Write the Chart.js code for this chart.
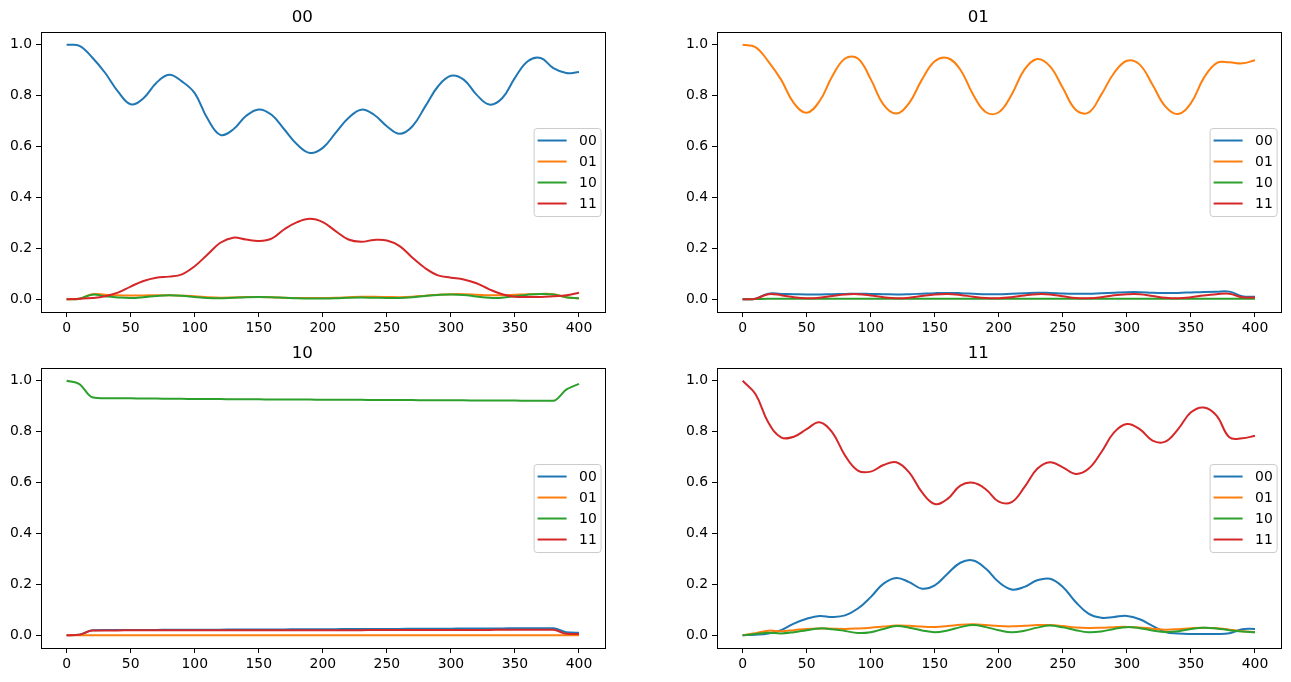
<!DOCTYPE html>
<html>
<head>
<meta charset="utf-8">
<script src="https://cdn.jsdelivr.net/npm/chart.js@4.4.1/dist/chart.umd.min.js"></script>
<style>
  body { margin: 0; background: #fff; }
  #fig { position: relative; width: 1291px; height: 682px; overflow: hidden; }
  .panel { position: absolute; width: 616px; height: 342px; }
</style>
</head>
<body>
<div id="fig">
  <div class="panel" style="left:0px;top:0px"><canvas id="c00"></canvas></div>
  <div class="panel" style="left:676px;top:0px"><canvas id="c01"></canvas></div>
  <div class="panel" style="left:0px;top:336px"><canvas id="c10"></canvas></div>
  <div class="panel" style="left:676px;top:336px"><canvas id="c11"></canvas></div>
</div>
<script>
// time steps shared by every panel
const steps = [0,10,20,30,40,50,60,70,80,90,100,110,120,130,140,150,160,170,180,190,200,
               210,220,230,240,250,260,270,280,290,300,310,320,330,340,350,360,370,380,390,400];
const xTicks = [0,50,100,150,200,250,300,350,400];
const yTicks = [0,0.2,0.4,0.6,0.8,1.0];
const stateLabels = ['00','01','10','11'];
const colors = ['#1f77b4','#ff7f0e','#2ca02c','#d62728'];

// panel "00"
const p00_00 = [1.0,0.996,0.95,0.89,0.817,0.766,0.79,0.85,0.882,0.856,0.81,0.71,0.646,0.667,0.72,0.746,0.725,0.667,0.608,0.575,0.595,0.654,0.712,0.745,0.725,0.68,0.65,0.68,0.758,0.837,0.878,0.863,0.804,0.765,0.79,0.87,0.935,0.948,0.908,0.889,0.893];
const p00_01 = [0,0.002,0.02,0.018,0.016,0.015,0.015,0.016,0.016,0.014,0.012,0.008,0.006,0.007,0.009,0.009,0.008,0.006,0.005,0.005,0.005,0.006,0.008,0.01,0.01,0.009,0.008,0.01,0.014,0.018,0.02,0.02,0.018,0.016,0.016,0.018,0.02,0.021,0.02,0.008,0.004];
const p00_10 = [0,0.002,0.018,0.012,0.007,0.005,0.008,0.013,0.016,0.014,0.009,0.005,0.004,0.006,0.008,0.009,0.008,0.006,0.004,0.003,0.003,0.004,0.006,0.007,0.006,0.005,0.005,0.008,0.013,0.017,0.019,0.017,0.011,0.006,0.006,0.012,0.018,0.021,0.019,0.008,0.004];
const p00_11 = [0,0.002,0.005,0.012,0.026,0.05,0.072,0.085,0.089,0.098,0.13,0.176,0.222,0.242,0.235,0.229,0.238,0.275,0.303,0.316,0.303,0.268,0.235,0.226,0.233,0.231,0.209,0.163,0.122,0.094,0.085,0.078,0.063,0.039,0.02,0.01,0.009,0.009,0.012,0.016,0.026];

// panel "01"
const p01_00 = [0,0.002,0.022,0.021,0.02,0.019,0.019,0.02,0.021,0.022,0.021,0.02,0.019,0.02,0.022,0.024,0.025,0.024,0.022,0.02,0.02,0.022,0.024,0.026,0.025,0.023,0.022,0.022,0.024,0.026,0.028,0.028,0.026,0.025,0.025,0.027,0.029,0.03,0.03,0.012,0.01];
const p01_01 = [1.0,0.991,0.935,0.863,0.771,0.733,0.778,0.876,0.946,0.946,0.865,0.765,0.73,0.771,0.863,0.935,0.948,0.902,0.804,0.735,0.735,0.804,0.902,0.944,0.915,0.83,0.745,0.733,0.804,0.889,0.937,0.922,0.843,0.758,0.728,0.771,0.869,0.928,0.931,0.927,0.939];
const p01_10 = [0,0.001,0.002,0.002,0.002,0.002,0.002,0.002,0.002,0.002,0.002,0.002,0.002,0.002,0.002,0.002,0.002,0.002,0.002,0.002,0.002,0.002,0.002,0.002,0.002,0.002,0.002,0.002,0.002,0.002,0.002,0.002,0.002,0.002,0.002,0.002,0.002,0.002,0.002,0.002,0.002];
const p01_11 = [0,0.002,0.02,0.016,0.008,0.004,0.006,0.013,0.019,0.02,0.015,0.008,0.004,0.006,0.013,0.019,0.021,0.017,0.01,0.005,0.004,0.008,0.015,0.02,0.019,0.012,0.005,0.004,0.008,0.016,0.02,0.02,0.013,0.006,0.004,0.008,0.015,0.02,0.022,0.008,0.007];

// panel "10"
const p10_00 = [0,0.002,0.02,0.021,0.021,0.021,0.021,0.021,0.022,0.022,0.022,0.022,0.022,0.023,0.023,0.023,0.023,0.023,0.024,0.024,0.024,0.024,0.025,0.025,0.025,0.025,0.025,0.026,0.026,0.026,0.026,0.027,0.027,0.027,0.027,0.028,0.028,0.028,0.028,0.012,0.01];
const p10_01 = [0,0,0,0,0,0,0,0,0,0,0,0,0,0,0,0,0,0,0,0,0,0,0,0,0,0,0,0,0,0,0,0,0,0,0,0,0,0,0,0,0];
const p10_10 = [1.0,0.987,0.935,0.931,0.931,0.931,0.93,0.93,0.929,0.929,0.928,0.928,0.928,0.927,0.927,0.927,0.926,0.926,0.926,0.926,0.925,0.925,0.925,0.925,0.924,0.924,0.924,0.924,0.923,0.923,0.923,0.923,0.922,0.922,0.922,0.922,0.921,0.921,0.921,0.965,0.988];
const p10_11 = [0,0.002,0.019,0.019,0.019,0.02,0.02,0.02,0.02,0.02,0.02,0.02,0.02,0.02,0.02,0.02,0.02,0.02,0.02,0.02,0.02,0.02,0.02,0.02,0.021,0.021,0.021,0.021,0.021,0.021,0.021,0.021,0.021,0.021,0.022,0.022,0.022,0.022,0.022,0.006,0.005];

// panel "11"
const p11_00 = [0,0.002,0.007,0.02,0.046,0.065,0.076,0.072,0.078,0.105,0.15,0.203,0.225,0.209,0.183,0.196,0.242,0.285,0.294,0.261,0.209,0.18,0.19,0.216,0.222,0.19,0.131,0.085,0.069,0.072,0.076,0.063,0.037,0.013,0.007,0.005,0.005,0.005,0.008,0.024,0.025];
const p11_01 = [0,0.008,0.018,0.016,0.02,0.025,0.027,0.026,0.025,0.027,0.03,0.034,0.038,0.037,0.034,0.033,0.036,0.041,0.043,0.04,0.036,0.035,0.037,0.04,0.04,0.036,0.031,0.029,0.03,0.032,0.033,0.031,0.026,0.022,0.024,0.028,0.03,0.028,0.022,0.016,0.012];
const p11_10 = [0,0.005,0.01,0.007,0.012,0.02,0.027,0.024,0.017,0.009,0.012,0.025,0.036,0.03,0.019,0.012,0.019,0.032,0.04,0.032,0.02,0.012,0.018,0.03,0.038,0.031,0.02,0.012,0.015,0.025,0.032,0.028,0.019,0.013,0.016,0.025,0.03,0.027,0.02,0.015,0.012];
const p11_11 = [1.0,0.948,0.837,0.778,0.78,0.81,0.837,0.797,0.706,0.647,0.643,0.669,0.68,0.64,0.562,0.516,0.536,0.588,0.599,0.573,0.525,0.523,0.582,0.654,0.68,0.66,0.634,0.654,0.719,0.797,0.83,0.81,0.765,0.761,0.81,0.876,0.895,0.863,0.778,0.774,0.784];

const FONT = 'DejaVu Sans';

// top and right spines (matplotlib draws a full box)
const boxPlugin = {
  id: 'box',
  afterDraw(chart) {
    const a = chart.chartArea, ctx = chart.ctx;
    ctx.save();
    ctx.strokeStyle = '#000';
    ctx.lineWidth = 1;
    ctx.strokeRect(Math.round(a.left) + 0.5, Math.round(a.top) + 0.5,
                   Math.round(a.right - a.left), Math.round(a.bottom - a.top));
    ctx.restore();
  }
};

// legend box inside the axes, right centre
const legendPlugin = {
  id: 'mplLegend',
  afterDraw(chart) {
    const a = chart.chartArea, ctx = chart.ctx;
    const w = 67, h = 88;
    const left = a.right - 4 - w;
    const top = (a.top + a.bottom) / 2 - h / 2;
    ctx.save();
    ctx.beginPath();
    ctx.roundRect(left + 0.5, top + 0.5, w, h, 3);
    ctx.fillStyle = 'rgba(255,255,255,0.8)';
    ctx.fill();
    ctx.strokeStyle = '#cccccc';
    ctx.lineWidth = 1;
    ctx.stroke();
    ctx.font = '13.9px "' + FONT + '"';
    ctx.textBaseline = 'middle';
    ctx.fillStyle = '#000';
    chart.data.datasets.forEach((ds, i) => {
      const y = top + 12.5 + i * 21;
      ctx.beginPath();
      ctx.moveTo(left + 4, y);
      ctx.lineTo(left + 33, y);
      ctx.strokeStyle = ds.borderColor;
      ctx.lineWidth = 2;
      ctx.stroke();
      ctx.fillText(ds.label, left + 45.5, y + 1);
    });
    ctx.restore();
  }
};

function makePanel(id, title, series, monotone) {
  const datasets = series.map((vals, i) => ({
    label: stateLabels[i],
    data: steps.map((x, k) => ({ x: x, y: vals[k] })),
    borderColor: colors[i],
    backgroundColor: colors[i],
    borderWidth: 2,
    pointRadius: 0,
    tension: 0.4,
    cubicInterpolationMode: monotone ? 'monotone' : 'default',
    fill: false,
    order: 3 - i
  }));
  new Chart(document.getElementById(id), {
    type: 'line',
    data: { datasets },
    plugins: [boxPlugin, legendPlugin],
    options: {
      responsive: true,
      maintainAspectRatio: false,
      animation: false,
      devicePixelRatio: 1,
      layout: { padding: { left: 0, right: 11.4, top: 0, bottom: 0 } },
      plugins: {
        legend: { display: false },
        tooltip: { enabled: false },
        title: {
          display: true,
          text: title,
          color: '#000',
          font: { family: FONT, size: 16.7, weight: 'normal' },
          padding: { top: 8, bottom: 4 }
        }
      },
      scales: {
        x: {
          type: 'linear',
          min: -20,
          max: 420,
          afterFit(s) { s.height = 30; },
          afterBuildTicks(s) { s.ticks = xTicks.map(v => ({ value: v })); },
          grid: { display: true, drawOnChartArea: false, drawTicks: true, tickLength: 5, color: '#000' },
          border: { display: true, color: '#000' },
          ticks: { color: '#000', padding: 3, maxRotation: 0, font: { family: FONT, size: 13.9 },
                   callback: v => String(v) }
        },
        y: {
          type: 'linear',
          min: -0.05,
          max: 1.05,
          afterFit(s) { s.width = 41; },
          afterBuildTicks(s) { s.ticks = yTicks.map(v => ({ value: v })); },
          grid: { display: true, drawOnChartArea: false, drawTicks: true, tickLength: 5, color: '#000' },
          border: { display: true, color: '#000' },
          ticks: { color: '#000', padding: 4, font: { family: FONT, size: 13.9 },
                   callback: v => Number(v).toFixed(1) }
        }
      }
    }
  });
}

makePanel('c00', '00', [p00_00, p00_01, p00_10, p00_11], false);
makePanel('c01', '01', [p01_00, p01_01, p01_10, p01_11], false);
makePanel('c10', '10', [p10_00, p10_01, p10_10, p10_11], true);
makePanel('c11', '11', [p11_00, p11_01, p11_10, p11_11], false);
</script>
</body>
</html>
